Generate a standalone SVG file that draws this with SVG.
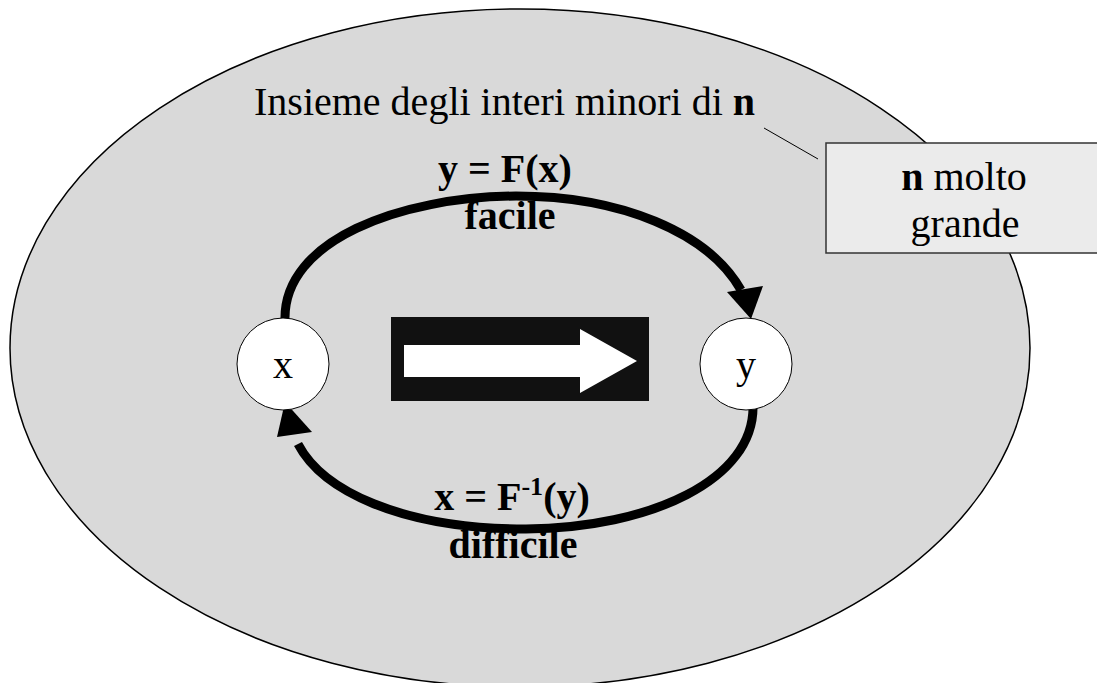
<svg xmlns="http://www.w3.org/2000/svg" width="1097" height="683" viewBox="0 0 1097 683">
  <style>
    .t { font-family: "Liberation Serif", "Times New Roman", serif; font-size: 40px; fill: #000; }
    .b { font-weight: bold; }
    .arc { fill: none; stroke: #000; stroke-width: 9; }
    .head { fill: #000; }
    .node { fill: #fff; stroke: #000; stroke-width: 1; }
  </style>

  <!-- set of integers smaller than n -->
  <g id="set">
    <ellipse cx="520" cy="348" rx="510" ry="339" fill="#d9d9d9" stroke="#000" stroke-width="1.5"/>
    <text class="t" x="254" y="115" font-size="41">Insieme degli interi minori di <tspan class="b">n</tspan></text>
  </g>

  <!-- callout -->
  <g id="note">
    <line x1="764" y1="128" x2="818" y2="159" stroke="#000" stroke-width="1"/>
    <rect x="826" y="143" width="280" height="110" fill="#ebebeb" stroke="#333" stroke-width="1.5"/>
    <text class="t" x="964" y="190" text-anchor="middle"><tspan class="b">n</tspan> molto</text>
    <text class="t" x="965" y="237" text-anchor="middle">grande</text>
  </g>

  <!-- big arrow in the middle -->
  <g id="direction">
    <rect x="391" y="317" width="258" height="84" fill="#111"/>
    <polygon points="404,345 580,345 580,329 637,361 580,393 580,377 404,377" fill="#fff"/>
  </g>

  <!-- connectors -->
  <g id="connectors">
    <path class="arc" d="M285,320 C283,240 400,197 516,196 C620,196 708,232 741,290"/>
    <polygon class="head" points="751,319 727,292 763,286"/>
    <path class="arc" d="M753,405 C755,480 650,528 526,529 C400,529 322,490 298,444"/>
    <polygon class="head" points="285,402 277,437 312,432"/>
  </g>

  <g id="labels">
    <text class="t b" x="505" y="182" text-anchor="middle">y = F(x)</text>
    <text class="t b" x="510" y="229" text-anchor="middle">facile</text>
    <text class="t b" x="512" y="510" text-anchor="middle">x = F<tspan font-size="26" dy="-15">-1</tspan><tspan dy="15">(y)</tspan></text>
    <text class="t b" x="513" y="558" text-anchor="middle">difficile</text>
  </g>

  <g id="node-x">
    <circle class="node" cx="283" cy="364" r="46"/>
    <text class="t" x="283" y="378" text-anchor="middle">x</text>
  </g>
  <g id="node-y">
    <circle class="node" cx="746" cy="364" r="46"/>
    <text class="t" x="746" y="378" text-anchor="middle">y</text>
  </g>
</svg>
